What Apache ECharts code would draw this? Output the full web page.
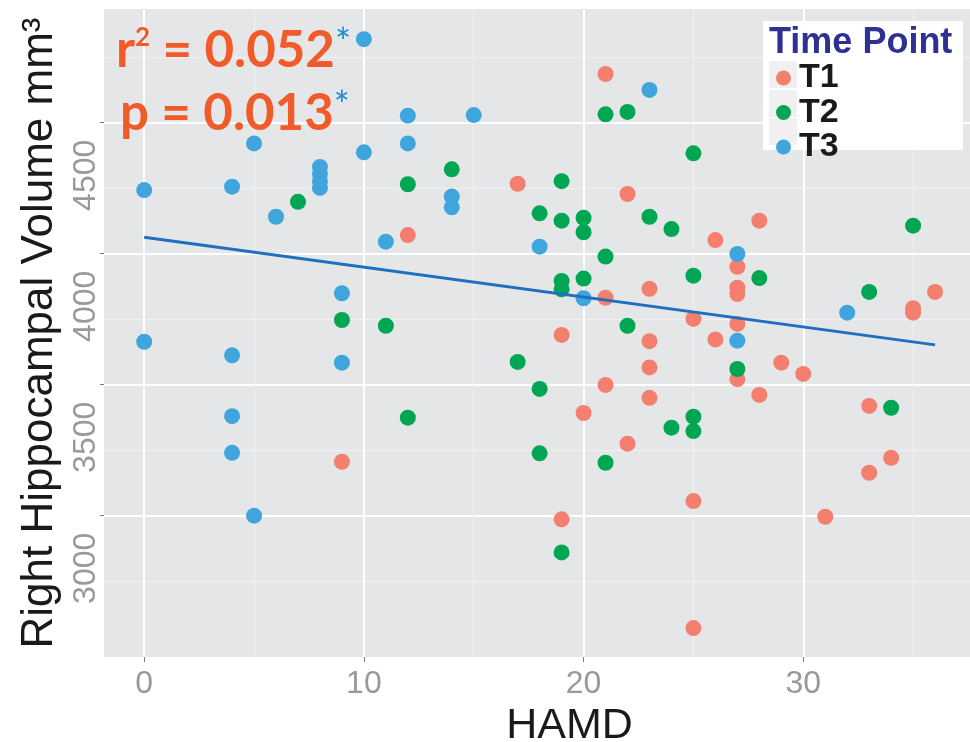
<!DOCTYPE html>
<html>
<head>
<meta charset="utf-8">
<script src="https://cdn.jsdelivr.net/npm/echarts@6/dist/echarts.min.js"></script>
<style>
html, body { margin: 0; padding: 0; background: #fff; }
#chart { width: 970px; height: 742px; }
</style>
</head>
<body>
<div id="chart"></div>
<script>
// T1 (red)
const t1Hamd = [9, 12, 17, 19, 19, 20, 21, 21, 21, 22, 22, 23, 23, 23, 23, 25, 25, 25, 26, 26, 27, 27, 27, 27, 27, 28, 28, 29, 30, 31, 33, 33, 34, 35, 35, 36];
const t1Volume = [3206, 4071, 4267, 3690, 2986, 3392, 4686, 3832, 3499, 4228, 3275, 3866, 3666, 3566, 3450, 3751, 3056, 2571, 4052, 3673, 3950, 3870, 3846, 3732, 3521, 4126, 3461, 3584, 3541, 2996, 3419, 3164, 3221, 3792, 3775, 3854];

// T2 (green)
const t2Hamd = [7, 9, 11, 12, 12, 14, 17, 18, 18, 18, 19, 19, 19, 19, 19, 20, 20, 20, 21, 21, 21, 22, 22, 23, 24, 24, 25, 25, 25, 25, 27, 28, 33, 34, 35];
const t2Volume = [4198, 3747, 3725, 4265, 3374, 4322, 3587, 4154, 3484, 3238, 4277, 4126, 3896, 3864, 2860, 4137, 4082, 3905, 4532, 3989, 3202, 4541, 3725, 4141, 4094, 3336, 4383, 3916, 3378, 3323, 3560, 3907, 3854, 3412, 4107];

// T3 (blue)
const t3Hamd = [0, 0, 4, 4, 4, 4, 5, 5, 6, 8, 8, 8, 8, 9, 9, 10, 10, 11, 12, 12, 14, 14, 15, 18, 20, 23, 27, 27, 32];
const t3Volume = [4243, 3664, 4256, 3612, 3380, 3240, 4421, 3000, 4141, 4331, 4304, 4277, 4251, 3849, 3584, 4819, 4387, 4046, 4527, 4421, 4218, 4177, 4529, 4027, 3830, 4625, 3999, 3668, 3775];

// regression line end points
const fitHamd = [0, 36];
const fitVolume = [4063, 3652];

const xTicks = [0, 10, 20, 30];
const yTicks = [3000, 3500, 4000, 4500];

const groupNames = ["T1", "T2", "T3"];
const groupColors = ["#F47F6F", "#00A651", "#41A5DD"];

const pairs = (xs, ys) => xs.map((x, i) => [x, ys[i]]);

const chart = echarts.init(document.getElementById("chart"));

const gridLine = { show: true, lineStyle: { color: "#FFFFFF", width: 2 } };
const minorLine = { show: true, lineStyle: { color: "#F1F1F2", width: 1 } };

chart.setOption({
    animation: false,
    grid: {
        left: 104,
        right: 0,
        top: 9,
        bottom: 85,
        show: true,
        containLabel: false,
        outerBoundsMode: "none",
        backgroundColor: "#E5E6E8",
        borderWidth: 0
    },
    xAxis: {
        type: "value",
        min: -1.83,
        max: 37.59,
        name: "HAMD",
        nameLocation: "middle",
        nameGap: 40,
        nameTextStyle: {
            fontFamily: "Liberation Sans",
            fontSize: 43,
            color: "#1A1A1A",
            padding: [0, 0, 0, 65]
        },
        axisLine: { show: false, onZero: false },
        axisTick: { show: true, customValues: xTicks, length: 5, lineStyle: { color: "#7F7F7F" } },
        axisLabel: {
            customValues: xTicks,
            fontFamily: "Liberation Sans",
            fontSize: 32,
            color: "#999999",
            margin: 11
        },
        splitLine: gridLine,
        minorTick: { show: false, splitNumber: 2 },
        minorSplitLine: minorLine
    },
    yAxis: {
        type: "value",
        min: 2460.7,
        max: 4934,
        name: "Right Hippocampal Volume mm³",
        nameLocation: "middle",
        nameRotate: 90,
        nameGap: 35,
        nameTextStyle: {
            fontFamily: "Liberation Sans",
            fontSize: 44,
            color: "#1A1A1A"
        },
        axisLine: { show: false, onZero: false },
        axisTick: { show: true, customValues: yTicks, length: 4, lineStyle: { color: "#7F7F7F" } },
        axisLabel: {
            customValues: yTicks,
            formatter: v => (yTicks.includes(v) ? String(v) : ""),
            rotate: 90,
            align: "right",
            padding: [0, 17, 0, 0],
            fontFamily: "Liberation Sans",
            fontSize: 32,
            color: "#999999",
            margin: 2
        },
        splitLine: gridLine,
        minorTick: { show: false, splitNumber: 2 },
        minorSplitLine: minorLine
    },
    legend: {
        orient: "vertical",
        left: 776,
        top: 61,
        padding: 0,
        itemGap: 0.5,
        itemWidth: 15,
        itemHeight: 15,
        itemStyle: { borderWidth: 0 },
        z: 10,
        icon: "circle",
        data: groupNames,
        textStyle: {
            fontFamily: "Liberation Sans",
            fontWeight: "bold",
            fontSize: 34,
            lineHeight: 28,
            color: "#1A1A1A",
            padding: [0, 0, 0, 3]
        }
    },
    graphic: [
        { type: "rect", z: 5, shape: { x: 763, y: 21, width: 200, height: 129 }, style: { fill: "#FFFFFF" } },
        { type: "rect", z: 6, shape: { x: 769, y: 61, width: 28, height: 27 }, style: { fill: "#F0F0F0" } },
        { type: "rect", z: 6, shape: { x: 769, y: 90, width: 28, height: 27 }, style: { fill: "#F0F0F0" } },
        { type: "rect", z: 6, shape: { x: 769, y: 118, width: 28, height: 27 }, style: { fill: "#F0F0F0" } },
        {
            type: "text", z: 7, x: 769, y: 25,
            style: {
                text: "Time Point",
                fontFamily: "Liberation Sans",
                fontWeight: "bold",
                fontSize: 36,
                fill: "#2E3192"
            }
        },
        {
            type: "text", z: 7, x: 116, y: 25,
            style: {
                text: "{m|r}{s|2}{m| = 0.052}{a|*}",
                rich: {
                    m: { fontFamily: "Lato", fontWeight: "bold", fontSize: 51, fill: "#F15A29", verticalAlign: "bottom" },
                    s: { fontFamily: "Lato", fontWeight: "bold", fontSize: 26, fill: "#F15A29", verticalAlign: "top" },
                    a: { fontFamily: "Lato", fontSize: 38, fill: "#1A8FD8", verticalAlign: "top" }
                }
            }
        },
        {
            type: "text", z: 7, x: 120, y: 88,
            style: {
                text: "{m|p = 0.013}{a|*}",
                rich: {
                    m: { fontFamily: "Lato", fontWeight: "bold", fontSize: 51, fill: "#F15A29", verticalAlign: "bottom" },
                    a: { fontFamily: "Lato", fontSize: 38, fill: "#1A8FD8", verticalAlign: "top" }
                }
            }
        }
    ],
    series: [
        {
            name: "T1",
            type: "scatter",
            symbolSize: 16,
            itemStyle: { color: groupColors[0], opacity: 1 },
            data: pairs(t1Hamd, t1Volume)
        },
        {
            name: "T2",
            type: "scatter",
            symbolSize: 16,
            itemStyle: { color: groupColors[1], opacity: 1 },
            data: pairs(t2Hamd, t2Volume)
        },
        {
            name: "T3",
            type: "scatter",
            symbolSize: 16,
            itemStyle: { color: groupColors[2], opacity: 1 },
            data: pairs(t3Hamd, t3Volume)
        },
        {
            name: "fit",
            type: "line",
            symbol: "none",
            z: 3,
            lineStyle: { color: "#1F6FC0", width: 3 },
            data: pairs(fitHamd, fitVolume)
        }
    ]
});
</script>
</body>
</html>
